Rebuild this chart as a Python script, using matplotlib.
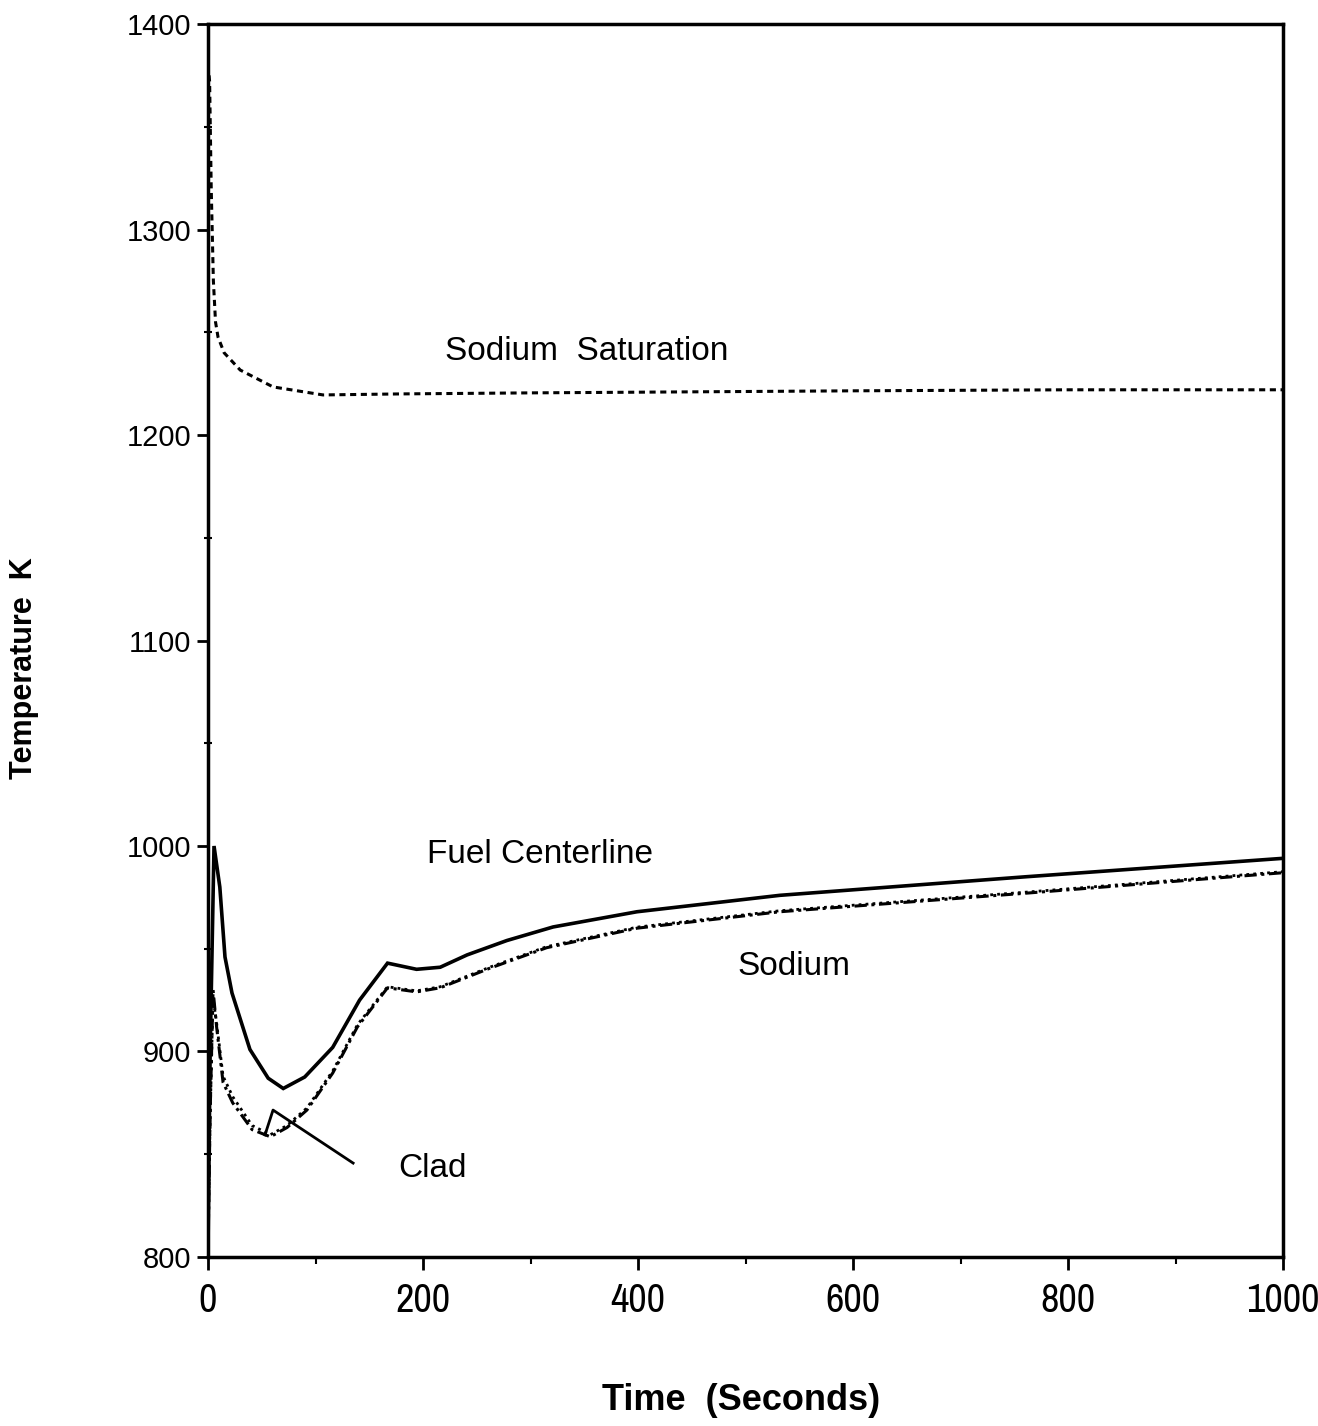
import matplotlib.pyplot as plt
from matplotlib import font_manager
from matplotlib.ticker import MultipleLocator

# Data
t_fuel = [0, 2, 5.6, 11, 15.8, 22.3, 39, 56, 70, 90, 116, 141, 167, 194, 216,
          241, 278, 321, 399, 532, 760, 1000]
fuel = [803, 900, 1000, 980, 946, 928.5, 901, 887, 882, 887.6, 902, 925, 943,
        940, 941, 947, 954, 960.6, 968, 976, 985, 994]

t_na = [0, 2, 4.7, 8, 14, 23, 41, 58, 73.5, 92, 116, 139, 167, 194, 216, 262,
        315, 399, 532, 760, 1000]
sodium = [803, 870, 930, 912, 885, 875, 862, 858.5, 863, 871.5, 889.5, 912,
          931, 929, 931, 940.5, 950.5, 960, 968, 977, 987]
clad = [803, 868, 926, 914, 888, 878, 864, 859.5, 864, 872.5, 890.5, 913,
        931.5, 929.5, 931.5, 941, 951, 960.5, 968.5, 977.5, 987.5]

t_sat = [1, 1.5, 3, 5, 7, 9.3, 15, 30, 60.5, 107, 180, 300, 450, 600, 800, 1000]
sat = [1375, 1372, 1320, 1275, 1255, 1247.7, 1240, 1231.6, 1223.4, 1219.5,
       1220, 1220.5, 1221, 1221.5, 1222, 1222]

# leader line for the "Clad" label
clad_ptr_t = [135, 60.5, 53]
clad_ptr_T = [845.7, 871.5, 859.4]

xticks = [0, 200, 400, 600, 800, 1000]
yticks = [800, 900, 1000, 1100, 1200, 1300, 1400]

plt.rcParams['font.family'] = ['Liberation Sans', 'DejaVu Sans']

# look for a condensed face for the x tick labels, if one is installed
narrow = None
for f in font_manager.fontManager.ttflist:
    if 'Narrow' in f.name or 'Condensed' in f.name:
        narrow = f.name
        break

fig = plt.figure(figsize=(13.18, 14.26), dpi=100)
ax = fig.add_axes([208 / 1318, 1 - 1257 / 1426, 1075 / 1318, 1233 / 1426])

ax.plot(t_fuel, fuel, color='black', lw=2.6, solid_joinstyle='miter')
ax.plot(t_na, sodium, color='black', lw=2.2, linestyle=(0, (4, 1.5, 1, 1.5)))
ax.plot(t_na, clad, color='black', lw=2.0, linestyle=(0, (1, 1.5)))
ax.plot(t_sat, sat, color='black', lw=2.2, linestyle=(0, (2, 1.5)))
ax.plot(clad_ptr_t, clad_ptr_T, color='black', lw=2.0)

ax.set_xlim(0, 1000)
ax.set_ylim(800, 1400)
ax.set_xticks(xticks)
ax.set_yticks(yticks)
ax.xaxis.set_minor_locator(MultipleLocator(100))
ax.yaxis.set_minor_locator(MultipleLocator(50))

for s in ax.spines.values():
    s.set_linewidth(2.5)

xsize = 29 if narrow else 21.5
ax.tick_params(axis='x', which='major', direction='out', length=9, width=2,
               pad=9, labelsize=xsize)
ax.tick_params(axis='x', which='minor', direction='out', length=5, width=1.5)
ax.tick_params(axis='y', which='major', direction='out', length=8, width=2,
               pad=4, labelsize=21)
ax.tick_params(axis='y', which='minor', direction='inout', length=6, width=1.5)
if narrow:
    for lab in ax.get_xticklabels():
        lab.set_family([narrow, 'Liberation Sans'])

ax.text(352.6, 1236.5, 'Sodium  Saturation', fontsize=24, ha='center', va='baseline')
ax.text(309, 991.7, 'Fuel Centerline', fontsize=24, ha='center', va='baseline')
ax.text(545, 937.2, 'Sodium', fontsize=24, ha='center', va='baseline')
ax.text(208.4, 839, 'Clad', fontsize=24, ha='center', va='baseline')

fig.text(741 / 1318, 1 - 1400 / 1426, 'Time  (Seconds)', fontsize=26,
         fontweight='bold', ha='center', va='center')
fig.text(24 / 1318, 1 - 668 / 1426, 'Temperature  K', fontsize=22,
         fontweight='bold', ha='center', va='center', rotation=90)

fig.savefig('out.png', dpi=100)
